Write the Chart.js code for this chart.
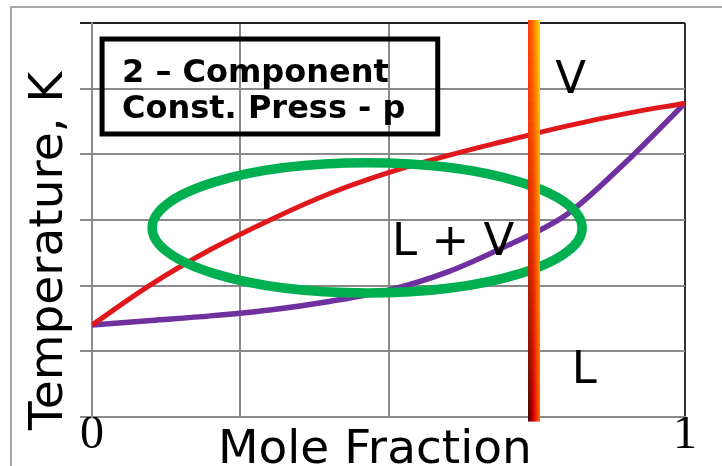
<!DOCTYPE html>
<html>
<head>
<meta charset="utf-8">
<script src="https://cdn.jsdelivr.net/npm/chart.js@4.4.1/dist/chart.umd.min.js"></script>
<style>
  html, body { margin: 0; padding: 0; background: #fff; }
  #wrap { width: 722px; height: 466px; }
</style>
</head>
<body>
<div id="wrap"><canvas id="grafico" width="722" height="466"></canvas></div>
<script>
// Fração molar (eixo x)
const fracaoMolar = [0, 0.1, 0.2, 0.3, 0.4, 0.5, 0.6, 0.7, 0.8, 0.9, 1];
// Curva de orvalho (vermelha) e curva de bolha (roxa), unidades da escala y
const curvaVapor   = [1.40, 2.02, 2.55, 3.00, 3.40, 3.72, 3.98, 4.21, 4.43, 4.62, 4.78];
const curvaLiquido = [1.40, 1.47, 1.54, 1.63, 1.76, 1.93, 2.21, 2.61, 3.08, 3.88, 4.78];
// Rótulos das marcas do eixo x
const rotulosX = { 0: "0", 1: "1" };
// Textos
const tituloY = "Temperature, K";
const tituloX = "Mole Fraction";
const caixaTexto = ["2 \u2013 Component", "Const. Press - p"];
const rotulosRegiao = [
    { texto: "V", x: 0.781, y: 4.93 },
    { texto: "L + V", x: 0.506, y: 2.47 },
    { texto: "L", x: 0.809, y: 0.52 }
];
// Elipse verde (centro e raios em unidades de dados)
const elipse = { x: 0.464, y: 2.88, rx: 0.3626, ry: 0.99 };
// Linha vertical em gradiente (composição)
const linhaComposicao = 0.7454;

const ctx = document.getElementById("grafico").getContext("2d");

const moldura = {
    id: "moldura",
    beforeDraw(chart) {
        const c = chart.ctx;
        c.save();
        c.strokeStyle = "#a8a8a8";
        c.lineWidth = 2;
        c.beginPath();
        c.moveTo(11, chart.height);
        c.lineTo(11, 7);
        c.lineTo(chart.width, 7);
        c.stroke();
        c.restore();
    }
};

function misturar(a, b, t) {
    return a.map((v, i) => Math.round(v + (b[i] - v) * t));
}

const anotacoes = {
    id: "anotacoes",
    afterDatasetsDraw(chart) {
        const { ctx: c, chartArea: a, scales: { x, y } } = chart;
        c.save();

        // elipse
        const cx = x.getPixelForValue(elipse.x);
        const cy = y.getPixelForValue(elipse.y);
        const rx = x.getPixelForValue(elipse.x + elipse.rx) - cx;
        const ry = cy - y.getPixelForValue(elipse.y + elipse.ry);
        c.beginPath();
        c.ellipse(cx, cy, rx, ry, 0, 0, Math.PI * 2);
        c.strokeStyle = "#00b050";
        c.lineWidth = 9.5;
        c.stroke();

        // caixa de título
        const bx0 = x.getPixelForValue(0.017), bx1 = x.getPixelForValue(0.583);
        const by0 = y.getPixelForValue(5.756), by1 = y.getPixelForValue(4.31);
        c.strokeStyle = "#000";
        c.lineWidth = 5;
        c.strokeRect(bx0, by0, bx1 - bx0, by1 - by0);
        c.fillStyle = "#000";
        c.font = "bold 32px 'DejaVu Sans'";
        c.textBaseline = "alphabetic";
        c.textAlign = "left";
        c.fillText(caixaTexto[0], x.getPixelForValue(0.0506), y.getPixelForValue(5.10));
        c.fillText(caixaTexto[1], x.getPixelForValue(0.0506), y.getPixelForValue(4.55));

        // rótulos das regiões
        c.font = "45px 'DejaVu Sans'";
        rotulosRegiao.forEach(r => {
            c.fillText(r.texto, x.getPixelForValue(r.x), y.getPixelForValue(r.y));
        });

        // títulos dos eixos
        c.font = "47px 'DejaVu Sans'";
        c.fillText(tituloX, a.left + 126, a.bottom + 46);
        c.save();
        c.translate(a.left - 30, a.bottom + 13);
        c.rotate(-Math.PI / 2);
        c.fillText(tituloY, 0, 0);
        c.restore();

        // linha vertical com gradiente
        const lx = x.getPixelForValue(linhaComposicao);
        const topo = a.top - 3, base = a.bottom + 4, w = 12;
        const cimaE = [255, 50, 0], cimaM = [255, 130, 0], cimaD = [255, 220, 0];
        const baixoE = [60, 0, 0], baixoM = [225, 0, 0], baixoD = [255, 110, 0];
        const n = 40, h = (base - topo) / n;
        for (let i = 0; i < n; i++) {
            const t = (i + 0.5) / n;
            const g = c.createLinearGradient(lx - w / 2, 0, lx + w / 2, 0);
            g.addColorStop(0, "rgb(" + misturar(cimaE, baixoE, t * t) + ")");
            g.addColorStop(0.5, "rgb(" + misturar(cimaM, baixoM, t) + ")");
            g.addColorStop(1, "rgb(" + misturar(cimaD, baixoD, t) + ")");
            c.fillStyle = g;
            c.fillRect(lx - w / 2, topo + i * h, w, h + 0.6);
        }
        c.restore();
    }
};

new Chart(ctx, {
    type: "line",
    data: {
        labels: fracaoMolar,
        datasets: [
            {
                label: "Vapor",
                data: fracaoMolar.map((f, i) => ({ x: f, y: curvaVapor[i] })),
                borderColor: "#e0181c",
                borderWidth: 5,
                pointRadius: 0,
                tension: 0.4
            },
            {
                label: "Líquido",
                data: fracaoMolar.map((f, i) => ({ x: f, y: curvaLiquido[i] })),
                borderColor: "#7030a0",
                borderWidth: 5.5,
                pointRadius: 0,
                cubicInterpolationMode: "monotone"
            }
        ]
    },
    options: {
        responsive: false,
        animation: false,
        layout: { padding: { left: 12, top: 23, right: 37, bottom: 0 } },
        plugins: {
            legend: { display: false },
            tooltip: { enabled: false }
        },
        scales: {
            x: {
                type: "linear",
                min: 0,
                max: 1,
                afterFit: s => { s.height = 49; },
                border: { color: "#8a8a8a", width: 2 },
                grid: {
                    color: c => (c.tick && c.tick.value === 1 ? "#333" : "#8a8a8a"),
                    lineWidth: 2,
                    drawTicks: false
                },
                ticks: {
                    stepSize: 0.25,
                    autoSkip: false,
                    maxRotation: 0,
                    padding: 8,
                    color: "#000",
                    font: { family: "'Liberation Serif'", size: 48, lineHeight: 0.44 },
                    callback: v => rotulosX[v] || ""
                }
            },
            y: {
                min: 0,
                max: 6,
                afterFit: s => { s.width = 80; },
                border: { color: "#8a8a8a", width: 2 },
                grid: {
                    color: c => (c.tick && c.tick.value === 6 ? "#222" : "#8a8a8a"),
                    lineWidth: 2,
                    tickLength: 12
                },
                ticks: { stepSize: 1, display: false }
            }
        }
    },
    plugins: [moldura, anotacoes]
});
</script>
</body>
</html>
